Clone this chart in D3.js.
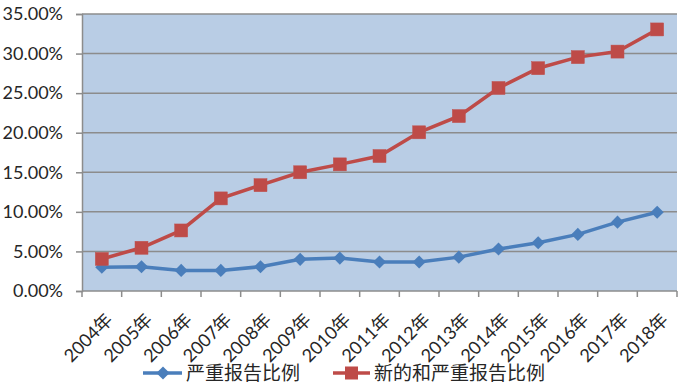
<!DOCTYPE html>
<html lang="zh">
<head>
<meta charset="utf-8">
<script src="https://d3js.org/d3.v7.min.js"></script>
<style>
	body { margin: 0; background: #fff; }
	text { font-family: Lato, "Noto Sans CJK SC", sans-serif; fill: #262626; }
</style>
</head>
<body>
<script>
// data
var years = ["2004年","2005年","2006年","2007年","2008年","2009年","2010年","2011年","2012年","2013年","2014年","2015年","2016年","2017年","2018年"];
var serious = [3.0, 3.07, 2.6, 2.6, 3.07, 4.0, 4.16, 3.66, 3.66, 4.28, 5.3, 6.1, 7.15, 8.7, 9.95];
var newSerious = [4.05, 5.46, 7.65, 11.7, 13.37, 15.0, 16.0, 17.05, 20.05, 22.1, 25.65, 28.15, 29.55, 30.25, 33.05];
var seriesNames = ["严重报告比例", "新的和严重报告比例"];
var yTicks = [0, 5, 10, 15, 20, 25, 30, 35];

var w = 690, h = 391;
var pLeft = 82, pRight = 677, pTop = 14, pBottom = 291;
var gridColor = "#8c8c8c";

var svg = d3.select("body").append("svg")
	.attr("width", w)
	.attr("height", h);

var x = d3.scaleBand().domain(years).range([pLeft, pRight]);
var y = d3.scaleLinear().domain([0, 35]).range([pBottom, pTop]);

// plot background
svg.append("rect")
	.attr("x", pLeft).attr("y", pTop)
	.attr("width", pRight - pLeft).attr("height", pBottom - pTop)
	.attr("fill", "#b9cde5");

// gridlines
svg.append("g").selectAll("line")
	.data(yTicks.slice(1))
	.enter().append("line")
	.attr("x1", pLeft).attr("x2", pRight)
	.attr("y1", function(d) { return y(d); })
	.attr("y2", function(d) { return y(d); })
	.attr("stroke", gridColor)
	.attr("stroke-width", 1.5);

// x axis
var xTickPos = years.map(function(d) { return x(d); }).concat([pRight]);
var xAxis = svg.append("g")
	.attr("transform", "translate(0," + pBottom + ")");
xAxis.append("line")
	.attr("x1", pLeft).attr("x2", pRight)
	.attr("stroke", gridColor).attr("stroke-width", 1.5);
xAxis.selectAll("line.tk")
	.data(xTickPos)
	.enter().append("line")
	.attr("class", "tk")
	.attr("x1", function(d) { return d; })
	.attr("x2", function(d) { return d; })
	.attr("y1", 0).attr("y2", 6)
	.attr("stroke", gridColor).attr("stroke-width", 1.5);
xAxis.selectAll("text")
	.data(years)
	.enter().append("text")
	.attr("text-anchor", "end")
	.attr("font-size", 18)
	.attr("transform", function(d) {
		return "translate(" + (x(d) + x.bandwidth() / 2 + 12) + ",30) rotate(-45)";
	})
	.text(function(d) { return d; });

// y axis
var yAxis = svg.append("g")
	.attr("transform", "translate(" + pLeft + ",0)")
	.call(d3.axisLeft(y).tickValues(yTicks).tickSize(6).tickPadding(13)
		.tickFormat(function(d) { return d.toFixed(2) + "%"; }));
yAxis.selectAll("text").attr("font-size", 18).attr("font-family", null).style("fill", "#262626");
yAxis.select(".domain").attr("stroke", gridColor).attr("stroke-width", 1.5);
yAxis.selectAll(".tick line").attr("stroke", gridColor).attr("stroke-width", 1.5);

// lines
var cx = function(d, i) { return x(years[i]) + x.bandwidth() / 2; };
var line = d3.line().x(cx).y(function(d) { return y(d); });

svg.append("path").datum(serious)
	.attr("d", line).attr("fill", "none")
	.attr("stroke", "#4a7ebb").attr("stroke-width", 3.5);
svg.append("path").datum(newSerious)
	.attr("d", line).attr("fill", "none")
	.attr("stroke", "#be4b48").attr("stroke-width", 3.5);

var diamond = d3.symbol().type(d3.symbolDiamond2).size(110);
svg.append("g").selectAll("path")
	.data(serious)
	.enter().append("path")
	.attr("d", diamond)
	.attr("transform", function(d, i) { return "translate(" + cx(d, i) + "," + y(d) + ")"; })
	.attr("fill", "#4a7ebb");

svg.append("g").selectAll("rect")
	.data(newSerious)
	.enter().append("rect")
	.attr("x", function(d, i) { return cx(d, i) - 6.5; })
	.attr("y", function(d) { return y(d) - 6.5; })
	.attr("width", 13).attr("height", 13)
	.attr("fill", "#be4b48")
	.attr("stroke", "#c0504d").attr("stroke-width", 0.5);

// legend
var legend = svg.append("g").attr("transform", "translate(0,373)");
legend.append("line").attr("x1", 143).attr("x2", 182)
	.attr("stroke", "#4a7ebb").attr("stroke-width", 3.5);
legend.append("path").attr("d", diamond).attr("transform", "translate(163,0)").attr("fill", "#4a7ebb");
legend.append("text").attr("x", 186).attr("y", 7).attr("font-size", 19).text(seriesNames[0]);

legend.append("line").attr("x1", 333).attr("x2", 370)
	.attr("stroke", "#be4b48").attr("stroke-width", 3.5);
legend.append("rect").attr("x", 345).attr("y", -6.5).attr("width", 13).attr("height", 13).attr("fill", "#be4b48");
legend.append("text").attr("x", 374).attr("y", 7).attr("font-size", 19).text(seriesNames[1]);
</script>
</body>
</html>
